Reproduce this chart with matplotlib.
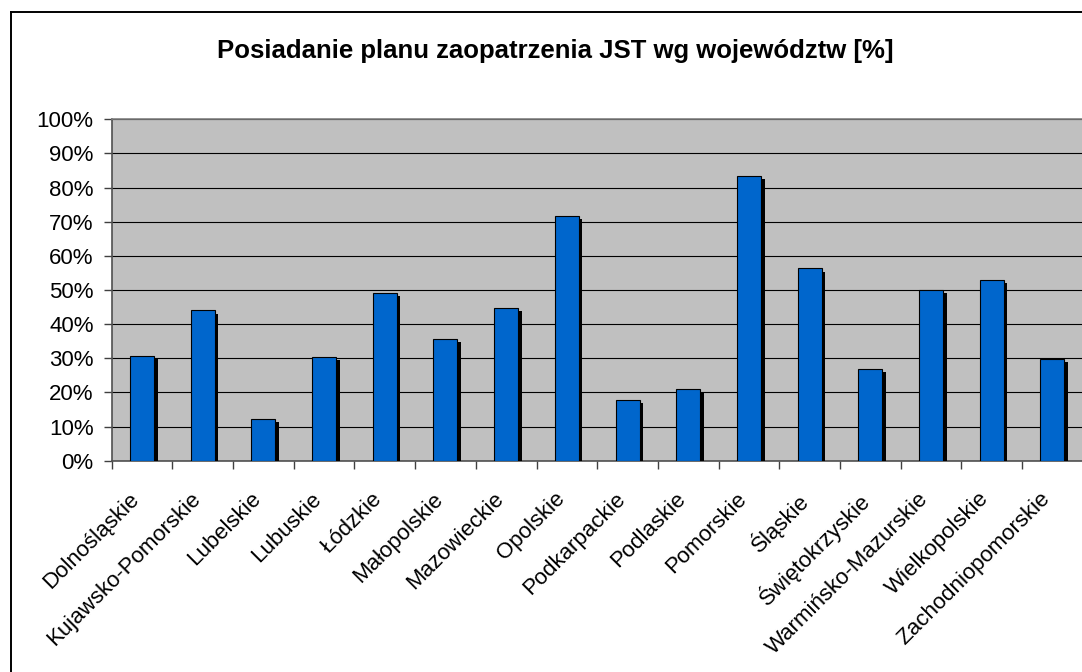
import matplotlib
matplotlib.use("Agg")
import matplotlib.pyplot as plt
import matplotlib.patheffects as pe
from matplotlib.lines import Line2D
from matplotlib.transforms import ScaledTranslation
import numpy as np

plt.rcParams['font.family'] = ['Liberation Sans', 'DejaVu Sans']

categories = ["Dolnośląskie", "Kujawsko-Pomorskie", "Lubelskie", "Lubuskie", "Łódzkie",
              "Małopolskie", "Mazowieckie", "Opolskie", "Podkarpackie", "Podlaskie",
              "Pomorskie", "Śląskie", "Świętokrzyskie", "Warmińsko-Mazurskie",
              "Wielkopolskie", "Zachodniopomorskie"]
values = [30.7, 44.0, 12.3, 30.4, 49.0, 35.7, 44.6, 71.6, 17.7, 20.9,
          83.3, 56.3, 27.0, 50.1, 52.9, 29.9]
yticks = [0, 10, 20, 30, 40, 50, 60, 70, 80, 90, 100]
title = "Posiadanie planu zaopatrzenia JST wg województw [%]"

W, H = 1082, 672
fig = plt.figure(figsize=(W / 100, H / 100), dpi=100)

# outer chart frame (partially outside the picture)
fig.add_artist(Line2D([10.5 / W, 10.5 / W], [0, 1 - 12 / H], transform=fig.transFigure,
                      color='black', lw=1.4))
fig.add_artist(Line2D([10.5 / W, 1], [1 - 12 / H, 1 - 12 / H], transform=fig.transFigure,
                      color='black', lw=1.4))

left, right, top, bottom = 111.7, 1082.7, 119.3, 460.7
ax = fig.add_axes([left / W, 1 - bottom / H, (right - left) / W, (bottom - top) / H])
ax.set_facecolor('#C0C0C0')

x = np.arange(len(categories)) + 0.5
bars = ax.bar(x, values, width=0.395, color='#0066CC', edgecolor='black', linewidth=0.8,
              zorder=3)
for b in bars:
    b.set_path_effects([pe.SimplePatchShadow(offset=(2.6, -2.2), shadow_rgbFace='black',
                                             alpha=1.0), pe.Normal()])

ax.set_xlim(0, len(categories))
ax.set_ylim(0, 100)
ax.set_yticks(yticks)
ax.set_yticklabels([f"{v}%" for v in yticks], fontsize=16)
ax.yaxis.grid(True, color='black', lw=0.8, zorder=1)
ax.set_axisbelow(True)

ax.set_xticks(np.arange(0, len(categories)))
ax.set_xticklabels([])
ax.set_xticks(x, minor=True)
ax.set_xticklabels(categories, minor=True, rotation=45, ha='right', va='top',
                   rotation_mode='anchor', fontsize=16)
ax.tick_params(axis='x', which='minor', length=0, pad=20)
ax.tick_params(axis='x', which='major', length=6, width=1, color='#404040', direction='out')
ax.tick_params(axis='y', length=6, width=1, color='#404040', pad=7)
shift = ScaledTranslation(-13 / 100, 0, fig.dpi_scale_trans)
for lab in ax.get_xticklabels(minor=True):
    lab.set_transform(lab.get_transform() + shift)

for s in ['left', 'bottom']:
    ax.spines[s].set_color('#505050')
    ax.spines[s].set_linewidth(1.2)
ax.spines['top'].set_color('#808080')
ax.spines['top'].set_linewidth(1.2)
ax.spines['right'].set_visible(False)

fig.text(555 / W, 1 - 51 / H, title, ha='center', va='center', fontsize=18.5,
         fontweight='bold')

fig.savefig('out.png', dpi=100)
